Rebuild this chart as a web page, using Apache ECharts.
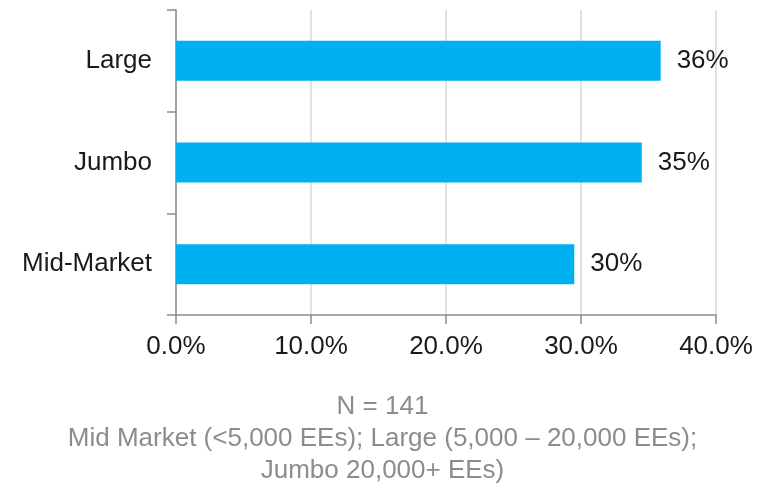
<!DOCTYPE html>
<html>
<head>
<meta charset="utf-8">
<script src="https://cdn.jsdelivr.net/npm/echarts@6/dist/echarts.min.js"></script>
<style>
  html, body { margin: 0; padding: 0; background: #ffffff; }
  #chart { width: 765px; height: 485px; }
</style>
</head>
<body>
<div id="chart"></div>
<script>
// Company size segments, listed bottom to top
const segments = ['Mid-Market', 'Jumbo', 'Large'];
// Share of respondents in each segment (%)
const shares = [29.5, 34.5, 35.9];
// Value axis range and step (%)
const axisMin = 0;
const axisMax = 40;
const axisStep = 10;
// Footnote lines under the chart
const noteLines = [
  'N = 141',
  'Mid Market (<5,000 EEs); Large (5,000 \u2013 20,000 EEs);',
  'Jumbo 20,000+ EEs)'
];

const FONT = 'Arial, "Liberation Sans", Helvetica, sans-serif';
const chart = echarts.init(document.getElementById('chart'), null, { renderer: 'canvas' });

chart.setOption({
  animation: false,
  backgroundColor: '#ffffff',
  grid: { left: 176, right: 49, top: 10, bottom: 170, containLabel: false },
  title: {
    text: noteLines.join('\n'),
    left: 'center',
    top: 386,
    textStyle: {
      fontFamily: FONT,
      fontSize: 26,
      fontWeight: 'normal',
      color: '#8c8c8c',
      lineHeight: 32
    }
  },
  xAxis: {
    type: 'value',
    min: axisMin,
    max: axisMax,
    interval: axisStep,
    axisLine: { show: true, lineStyle: { color: '#8c8c8c', width: 1.5 } },
    axisTick: { show: true, length: 9, lineStyle: { color: '#8c8c8c', width: 1.5 } },
    splitLine: { show: true, lineStyle: { color: '#d9d9d9', width: 1.5 } },
    axisLabel: {
      margin: 19,
      fontFamily: FONT,
      fontSize: 26,
      color: '#1a1a1a',
      formatter: v => v.toFixed(1) + '%'
    }
  },
  yAxis: {
    type: 'category',
    data: segments,
    axisLine: { show: true, lineStyle: { color: '#8c8c8c', width: 1.5 } },
    axisTick: { show: true, length: 9, lineStyle: { color: '#8c8c8c', width: 1.5 } },
    splitLine: { show: false },
    axisLabel: {
      margin: 24,
      fontFamily: FONT,
      fontSize: 26,
      color: '#1a1a1a'
    }
  },
  series: [{
    type: 'bar',
    data: shares,
    barWidth: 40,
    itemStyle: { color: '#00b0f0' },
    label: {
      show: true,
      position: 'right',
      distance: 16,
      fontFamily: FONT,
      fontSize: 26,
      color: '#1a1a1a',
      formatter: p => Math.round(p.value) + '%'
    }
  }]
});
</script>
</body>
</html>
